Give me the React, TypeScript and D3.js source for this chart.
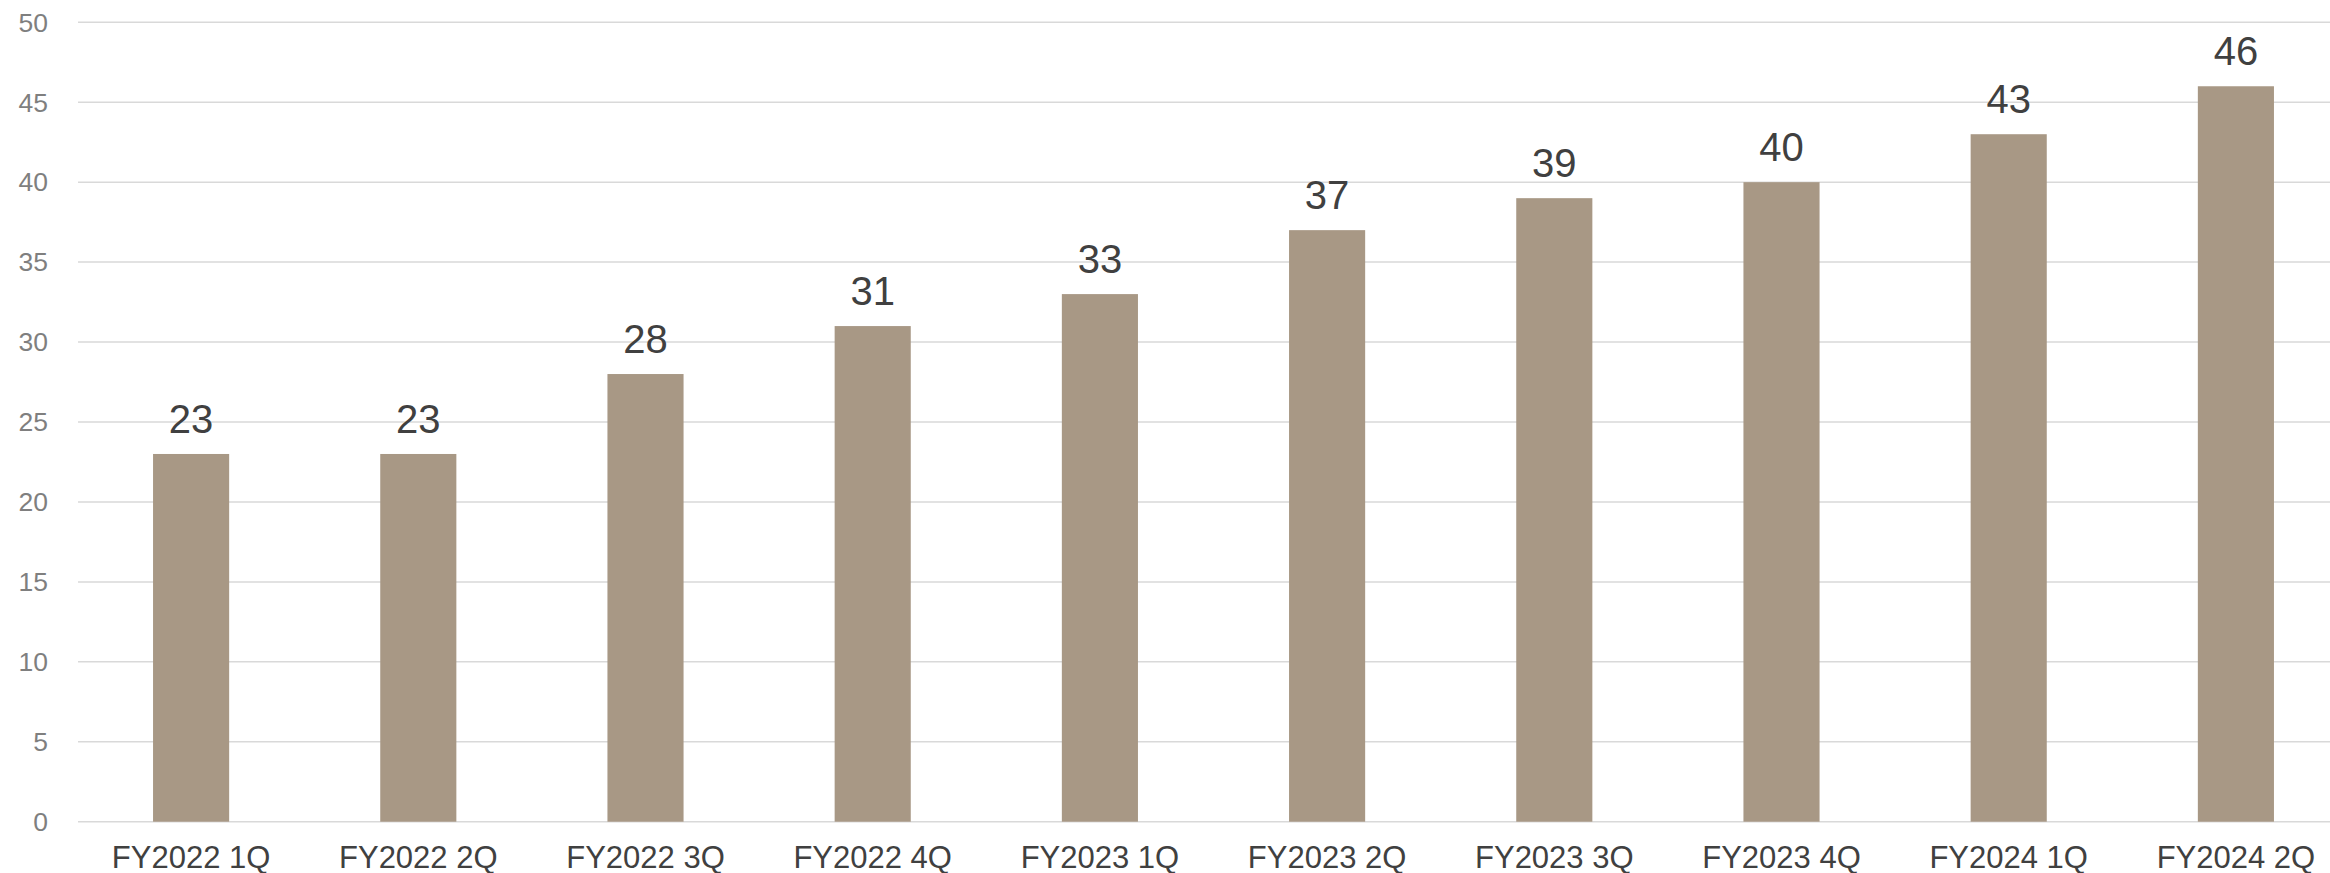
import React from "react";
import * as d3 from "d3";

const categories = [
  "FY2022 1Q", "FY2022 2Q", "FY2022 3Q", "FY2022 4Q", "FY2023 1Q",
  "FY2023 2Q", "FY2023 3Q", "FY2023 4Q", "FY2024 1Q", "FY2024 2Q",
];
const values = [23, 23, 28, 31, 33, 37, 39, 40, 43, 46];
const yTicks = [0, 5, 10, 15, 20, 25, 30, 35, 40, 45, 50];

const W = 2330;
const H = 873;

export default function App() {
  const x = d3.scaleBand<string>().domain(categories).range([77.5, 2349.5]).paddingInner(0.665).paddingOuter(0.3325);
  const y = d3.scaleLinear().domain([0, 50]).range([821.7, 22.3]);
  const font = "Arial, 'Liberation Sans', Helvetica, sans-serif";
  return (
    <svg width={W} height={H} style={{ position: "absolute", left: 0, top: 0, background: "#fff" }} fontFamily={font}>
      {yTicks.map((t) => (
        <g key={t}>
          <line x1={78} x2={W} y1={y(t)} y2={y(t)} stroke="#d9d9d9" strokeWidth={1.5} />
          <text x={48} y={y(t)} dy="0.35em" textAnchor="end" fontSize={26.5} fill="#7f7f7f">{t}</text>
        </g>
      ))}
      {categories.map((c, i) => (
        <g key={c}>
          <rect x={x(c)} y={y(values[i])} width={x.bandwidth()} height={y(0) - y(values[i])} fill="#a89885" />
          <text x={(x(c) as number) + x.bandwidth() / 2} y={y(values[i]) - 21} textAnchor="middle" fontSize={40} fill="#404040">{values[i]}</text>
          <text x={(x(c) as number) + x.bandwidth() / 2} y={868} textAnchor="middle" fontSize={31} fill="#404040">{c}</text>
        </g>
      ))}
    </svg>
  );
}
